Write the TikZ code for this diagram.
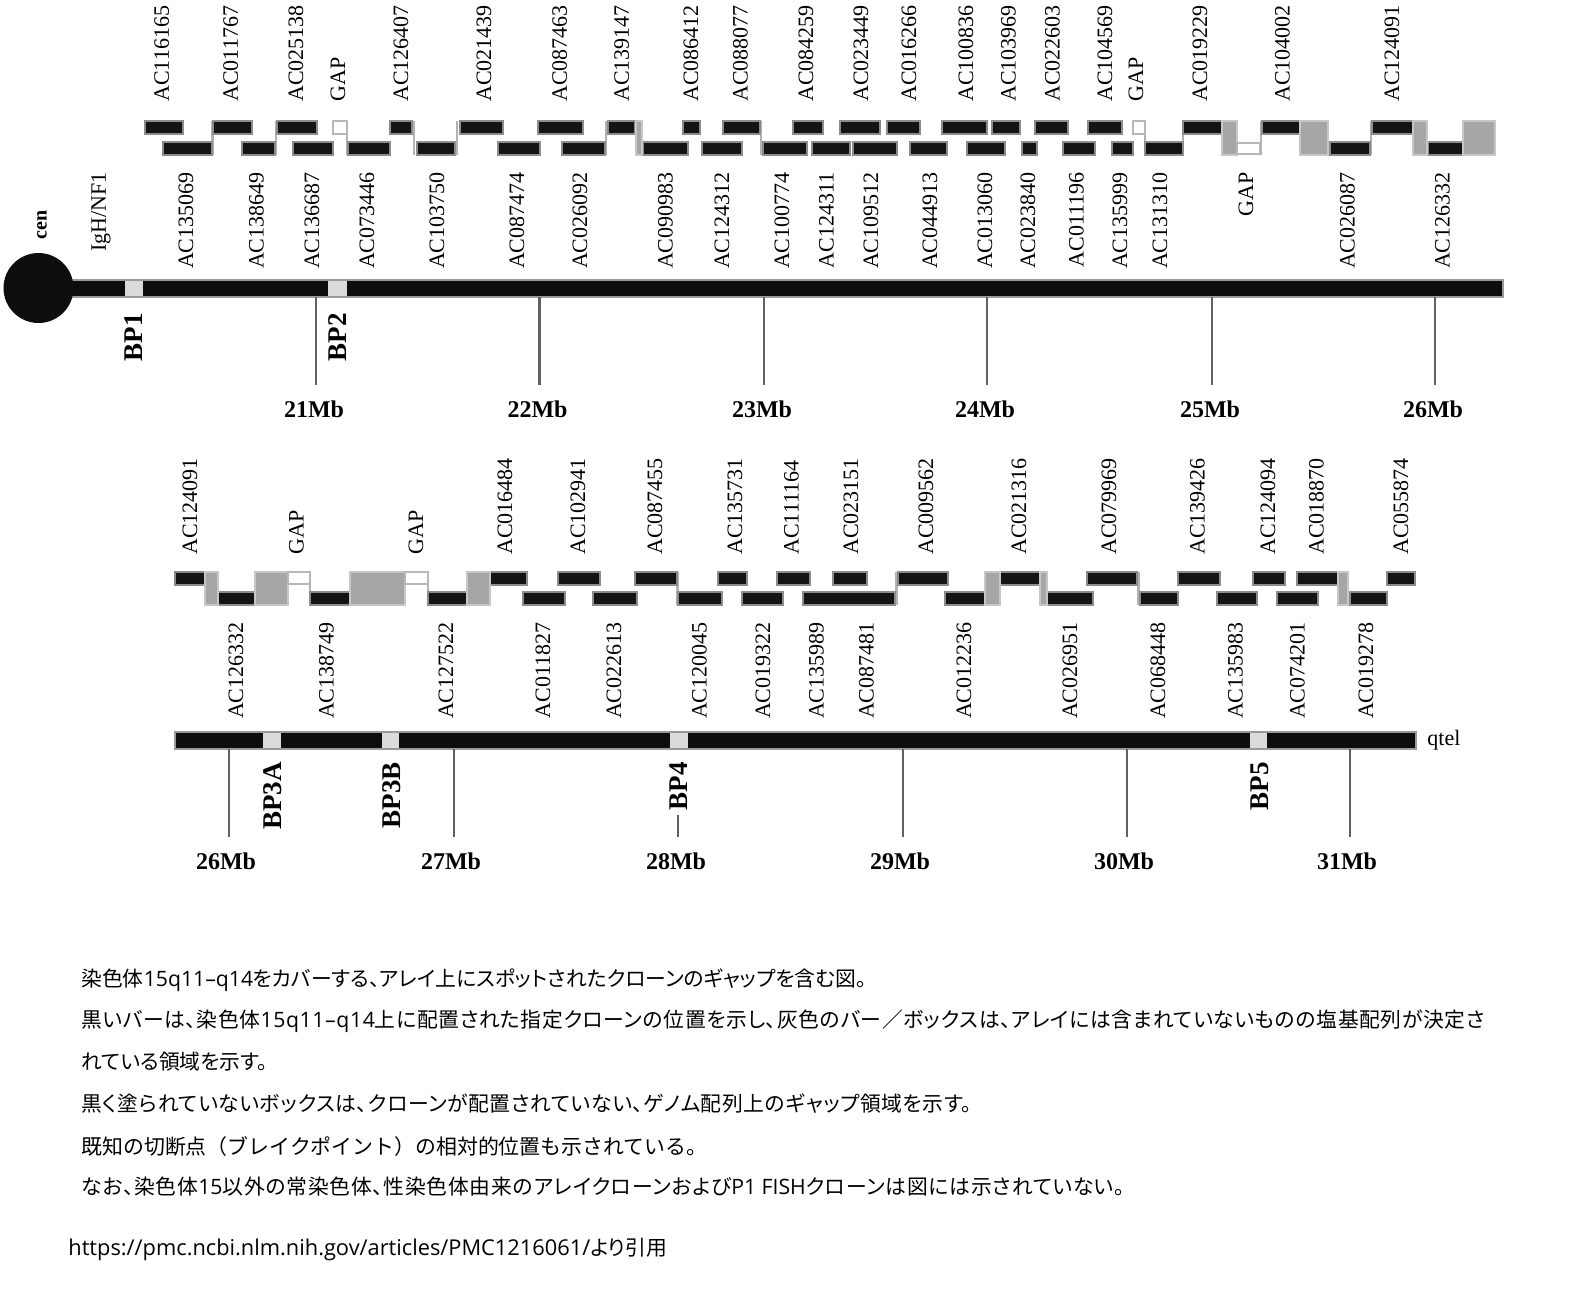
\documentclass[tikz,border=0pt]{standalone}
\usepackage{fontspec}
\setmainfont{Liberation Serif}
\newfontfamily\jpfont[RawFeature=+palt]{Noto Sans CJK JP}
\newfontfamily\jpfull{Noto Sans CJK JP}
\newfontfamily\jpwide[RawFeature=+palt,LetterSpace=3]{Noto Sans CJK JP}
\newfontfamily\jpfour[RawFeature=+palt,LetterSpace=3]{Noto Sans CJK JP}
\newfontfamily\jpsix[RawFeature=+palt,LetterSpace=3.6]{Noto Sans CJK JP}
\newfontfamily\latfont{Open Sans}
\newfontfamily\latwide[LetterSpace=3]{Open Sans}
\newcommand{\lat}[1]{{\latfont\fontsize{10.6}{12}\selectfont #1}}
\newcommand{\latw}[1]{{\latwide\fontsize{10.6}{12}\selectfont #1}}
\begin{document}
\begin{tikzpicture}[x=0.5pt,y=-0.5pt,
  lab/.style={rotate=90,inner sep=0pt,font=\fontsize{11}{12}\selectfont},
  labup/.style={lab,anchor=west},
  labdn/.style={lab,anchor=east},
  bplab/.style={rotate=90,anchor=east,inner sep=0pt,font=\fontsize{13.5}{15}\selectfont\bfseries},
  mblab/.style={inner sep=0pt,font=\fontsize{12}{14}\selectfont\bfseries},
  jptext/.style={anchor=west,inner sep=0pt,font=\jpfont\fontsize{10.4}{12}\selectfont},
  blk/.style={fill=black!92,draw=black!45,line width=0.6pt},
  gbox/.style={fill=black!35,draw=black!22,line width=0.6pt},
  gapbox/.style={fill=white,draw=black!28,line width=1pt},
  conn/.style={draw=black!30,line width=1.2pt},
  chrom/.style={fill=black!95,draw=black!40,line width=0.6pt},
  bpbox/.style={fill=black!14},
  tick/.style={draw=black!62,line width=1.1pt},
]
\useasboundingbox (0,0) rectangle (1590,1292);

% ================= TOP SECTION =================
\foreach \x in {212.5,276,347,414,457,606,761,1145,1183,1261,1371}
  \draw[conn] (\x,121) -- (\x,155);
\foreach \a/\b in {145/183,213/252,277/317,390/412,460/503,538/583,608/635,683/700,723/760,793/823,840/880,887/920,942/987,992/1020,1035/1068,1088/1122,1183/1222,1262/1300,1372/1413}
  \path[blk] (\a,121) rectangle (\b,134);
\foreach \a/\b in {163/212,242/275,293/333,348/390,417/455,498/540,562/605,643/688,702/742,763/807,812/850,853/897,910/947,967/1005,1022/1037,1063/1095,1112/1133,1145/1183,1330/1370,1428/1463}
  \path[blk] (\a,142) rectangle (\b,155);
\foreach \a/\b in {636/642,1222/1237,1300/1328,1413/1427,1463/1495}
  \path[gbox] (\a,121) rectangle (\b,155);
\path[gapbox] (333,121) rectangle (347,134);
\path[gapbox] (1133,121) rectangle (1145,134);
\path[gapbox] (1237,143) rectangle (1260,154);

\path[chrom] (38,280) rectangle (1503,297);
\node[circle,fill=black!95,minimum size=35pt,inner sep=0pt] (cen) at (38.5,288) {};
\path[bpbox] (125,281) rectangle (143,296);
\path[bpbox] (328,281) rectangle (347,296);

\node[rotate=90,inner sep=0pt,font=\fontsize{10}{11}\selectfont\bfseries] (cenlab) at (42,225) {cen};
\node[labdn] (igh) at (101,172) {IgH/NF1};

\foreach \x/\t [count=\i] in {161.8/AC116165,230.7/AC011767,296/AC025138,338/GAP,401/AC126407,484/AC021439,559.6/AC087463,621.6/AC139147,691/AC086412,740.5/AC088077,806/AC084259,861/AC023449,909/AC016266,966/AC100836,1008.5/AC103969,1052.5/AC022603,1105/AC104569,1136/GAP,1200/AC019229,1282.5/AC104002,1392/AC124091}
  \node[labup] (tu\i) at (\x,102) {\t};
\foreach \x/\t [count=\i] in {186/AC135069,256.5/AC138649,312/AC136687,367/AC073446,437/AC103750,517/AC087474,580/AC026092,665.5/AC090983,722/AC124312,782/AC100774,826.5/AC124311,871/AC109512,930/AC044913,985/AC013060,1028/AC023840,1076.5/AC011196,1120/AC135999,1160/AC131310,1246/GAP,1347.5/AC026087,1442.5/AC126332}
  \node[labdn] (tl\i) at (\x,172) {\t};

\node[bplab] (bp1) at (134,313) {BP1};
\node[bplab] (bp2) at (338,313) {BP2};

\foreach \x/\t [count=\i] in {316/21Mb,539.5/22Mb,764/23Mb,987/24Mb,1212/25Mb,1435/26Mb}{
  \draw[tick] (\x,297) -- (\x,385);
  \node[mblab] (tm\i) at (\x-2,409) {\t};
}

% ================= BOTTOM SECTION =================
\foreach \x in {310,428,677.5,896.5,1138.5,1348}
  \draw[conn] (\x,572) -- (\x,605);
\foreach \a/\b in {175/205,490/527,558/600,635/677,718/747,777/810,833/867,898/948,1000/1040,1087/1137,1178/1220,1253/1285,1297/1338,1387/1415}
  \path[blk] (\a,572) rectangle (\b,585);
\foreach \a/\b in {218/255,310/350,428/467,523/565,593/637,678/722,742/783,803/895,945/985,1047/1093,1140/1178,1217/1257,1277/1318,1350/1387}
  \path[blk] (\a,592) rectangle (\b,605);
\foreach \a/\b in {205/218,255/288,350/405,467/490,985/1000,1040/1047,1338/1348}
  \path[gbox] (\a,572) rectangle (\b,605);
\path[gapbox] (288,572) rectangle (310,584);
\path[gapbox] (405,572) rectangle (428,584);

\path[chrom] (175,732) rectangle (1416,749);
\path[bpbox] (263,733) rectangle (281,748);
\path[bpbox] (382,733) rectangle (399,748);
\path[bpbox] (670,733) rectangle (688,748);
\path[bpbox] (1250,733) rectangle (1267,748);
\node[anchor=west,inner sep=0pt,font=\fontsize{11}{12}\selectfont] (qtel) at (1427,740) {qtel};

\foreach \x/\t [count=\i] in {190/AC124091,296.5/GAP,416/GAP,505/AC016484,578/AC102941,655/AC087455,735/AC135731,791.5/AC111164,851/AC023151,926/AC009562,1019/AC021316,1109/AC079969,1197.5/AC139426,1268/AC124094,1316.5/AC018870,1401/AC055874}
  \node[labup] (bu\i) at (\x,555) {\t};
\foreach \x/\t [count=\i] in {236/AC126332,326.5/AC138749,446/AC127522,543/AC011827,614/AC022613,699.5/AC120045,763/AC019322,816.5/AC135989,866.5/AC087481,964/AC012236,1070/AC026951,1158/AC068448,1235.5/AC135983,1297.5/AC074201,1366/AC019278}
  \node[labdn] (bl\i) at (\x,622) {\t};

\node[bplab] (bp3a) at (273,762) {BP3A};
\node[bplab] (bp3b) at (391.5,762) {BP3B};
\node[bplab] (bp4) at (679,762) {BP4};
\node[bplab] (bp5) at (1260,762) {BP5};

\foreach \x/\t [count=\i] in {229/26Mb,454/27Mb,903/29Mb,1127/30Mb,1350/31Mb}{
  \draw[tick] (\x,749) -- (\x,837);
  \node[mblab] (bm\i) at (\x-3,861) {\t};
}
\draw[tick] (678,815) -- (678,837);
\node[mblab] (bm28) at (676,861) {28Mb};

% ================= CAPTION =================
\node[jptext] (c1) at (81,980) {染色体\lat{15q11–q14}をカバーする、アレイ上にスポットされたクローンのギャップを含む図。};
\node[jptext,font=\jpwide\fontsize{10.4}{12}\selectfont] (c2) at (81,1021) {黒いバーは、染色体\latw{15q11–q14}上に配置された指定クローンの位置を示し、灰色のバー／ボックスは、アレイには含まれていないものの塩基配列が決定さ};
\node[jptext] (c3) at (81,1062) {れている領域を示す。};
\node[jptext,font=\jpfour\fontsize{10.4}{12}\selectfont] (c4) at (81,1104) {黒く塗られていないボックスは、クローンが配置されていない、ゲノム配列上のギャップ領域を示す。};
\node[jptext,font=\jpfull\fontsize{10.45}{12}\selectfont] (c5) at (81,1147) {既知の切断点（ブレイクポイント）の相対的位置も示されている。};
\node[jptext,font=\jpsix\fontsize{10.4}{12}\selectfont] (c6) at (81,1187) {なお、染色体\lat{15}以外の常染色体、性染色体由来のアレイクローンおよび\lat{P1 FISH}クローンは図には示されていない。};
\node[jptext] (url) at (68,1249) {{\latfont\fontsize{10.9}{12}\selectfont https://pmc.ncbi.nlm.nih.gov/articles/PMC1216061/}より引用};
\end{tikzpicture}
\end{document}
